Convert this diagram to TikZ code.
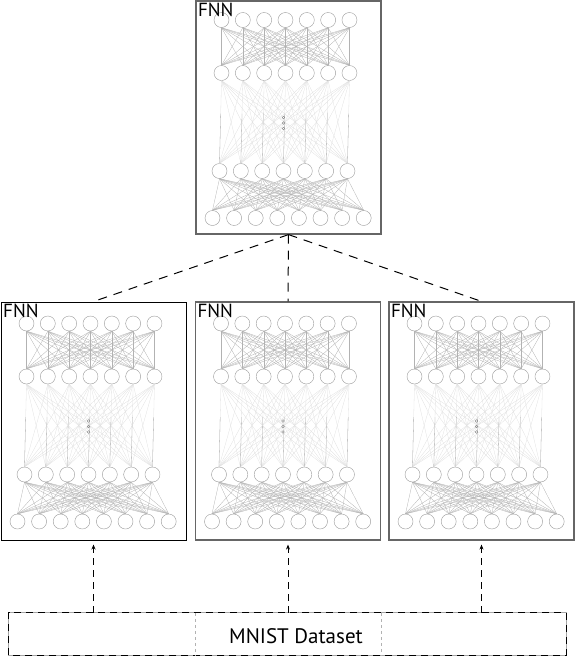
\documentclass[tikz,border=0pt]{standalone}
\usepackage{fontspec}
\setmainfont{PT Sans}
\usetikzlibrary{arrows.meta,positioning,calc}

\tikzset{
  neurona/.style={circle, draw=black!40, line width=0.4pt, minimum size=15pt, inner sep=0pt},
  enlace/.style={black!30, line width=0.3pt},
  tenue/.style={black!12, line width=0.3pt},
  caja/.style={draw=black!60, line width=1.2pt, minimum width=185pt, inner sep=0pt},
  guion/.style={line width=1pt, dash pattern=on 7pt off 5pt},
  rotulo/.style={font=\fontsize{19}{19}\selectfont},
}

% red FNN dentro de una caja (#1 = nombre de la caja)
\newcommand{\redfnn}[1]{%
  \begin{scope}[shift={(#1.center)}]
    % capas de neuronas
    \foreach \i in {0,...,6} {
      \node[neurona] (#1a\i) at (-67+21.33*\i,-97.5) {};
      \node[neurona] (#1b\i) at (-67+21.33*\i,-44.5) {};
      \node[neurona] (#1c\i) at (-69+21.33*\i,53.5) {};
    }
    \foreach \i in {0,...,7}
      \node[neurona] (#1d\i) at (-76+21.6*\i,100.5) {};
    % enlaces entre capas
    \foreach \i in {0,...,6} {
      \foreach \j in {0,...,6} {
        \draw[enlace] (#1a\i.south) -- (#1b\j.north);
        \draw[tenue] (#1b\i.south) -- ($(#1b\i.south)!0.5!(#1c\j.north)$);
        \draw[tenue] (#1c\i.north) -- ($(#1c\i.north)!0.5!(#1b\j.south)$);
      }
      \draw[black!30, line width=0.3pt] (#1c\i.north) -- ($(#1c\i.north)!0.6!(#1b\i.south)$);
      \foreach \j in {0,...,7}
        \draw[enlace] (#1c\i.south) -- (#1d\j.north);
    }
    % puntos suspensivos
    \foreach \y in {0,5.5,11}
      \draw[black!50, line width=0.3pt] (-5,\y) circle (1.3);
  \end{scope}}

\begin{document}
\begin{tikzpicture}[x=1pt,y=-1pt]
    \useasboundingbox (0,0) rectangle (576,662);
    % Cajas FNN
    \node[caja, minimum height=233pt] (fnnT) at (288.5,117.5) {};
    \node[caja, minimum height=238pt, draw=black, line width=1pt] (fnnL) at (93.5,421) {};
    \node[caja, minimum height=238pt] (fnnM) at (288,421) {};
    \node[caja, minimum height=238pt] (fnnR) at (481.5,421) {};
    \foreach \c in {fnnT,fnnL,fnnM,fnnR} {
        \redfnn{\c}
        \node[rotulo, anchor=north west, inner sep=2.5pt] (\c-txt) at (\c.north west) {FNN};
    }
    % Conexiones entre cajas
    \foreach \c in {fnnL,fnnM,fnnR}
        \draw[guion, dash pattern=on 9pt off 7pt] (fnnT.south) -- (\c.north);
    % Conjunto de datos
    \node[minimum width=557pt, minimum height=42pt, inner sep=0pt] (mnist) at (287.5,634) {};
    \node[rotulo, font=\fontsize{21}{21}\selectfont] (mnisttxt) at (296,636) {MNIST Dataset};
    \draw[black!35, line width=1pt] (mnist.south west) rectangle (mnist.north east);
    \draw[guion] (mnist.south west) rectangle (mnist.north east);
    \draw[black!30, dashed, line width=0.5pt] (mnist.north -| fnnM.west) -- (mnist.south -| fnnM.west);
    \draw[black!30, dashed, line width=0.5pt] (mnist.north -| fnnM.east) -- (mnist.south -| fnnM.east);
    % Flechas de entrada
    \foreach \c in {fnnL,fnnM,fnnR}
        \draw[guion, -{Stealth[length=5pt,width=4pt]}, shorten >=4pt] (mnist.north -| \c.south) -- (\c.south);
\end{tikzpicture}
\end{document}
